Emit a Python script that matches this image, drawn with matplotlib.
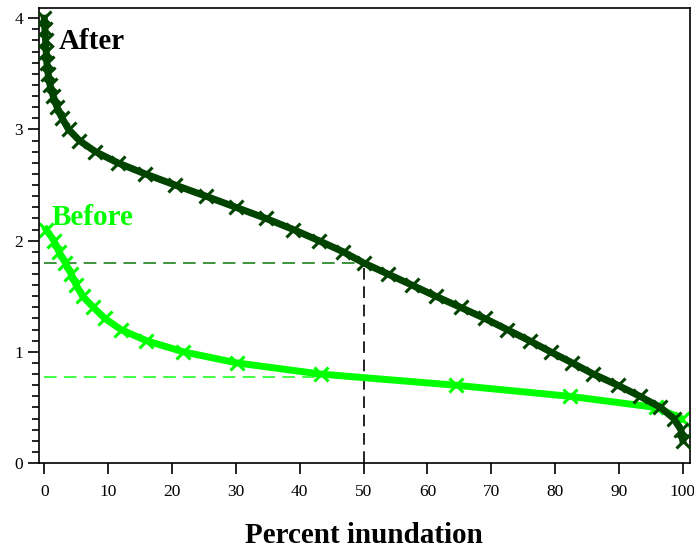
import matplotlib.pyplot as plt
from matplotlib.ticker import MultipleLocator

# inundation depth levels (y) and percent of area inundated (x)
after_depth = [4.0, 3.9, 3.8, 3.7, 3.6, 3.5, 3.4, 3.3, 3.2, 3.1, 3.0, 2.9, 2.8, 2.7,
               2.6, 2.5, 2.4, 2.3, 2.2, 2.1, 2.0, 1.9, 1.8, 1.7, 1.6, 1.5, 1.4, 1.3,
               1.2, 1.1, 1.0, 0.9, 0.8, 0.7, 0.6, 0.5, 0.4, 0.3, 0.2]
after_pct = [0.0, 0.1, 0.2, 0.3, 0.4, 0.6, 0.9, 1.4, 2.0, 2.8, 3.8, 5.5, 8.0, 11.5,
             15.8, 20.5, 25.3, 30.0, 34.7, 39.0, 43.0, 46.8, 50.0, 53.8, 57.6, 61.3,
             65.2, 69.0, 72.5, 76.0, 79.3, 82.7, 86.0, 89.8, 93.3, 96.5, 98.6, 99.7, 100.0]

before_depth = [2.1, 2.0, 1.9, 1.8, 1.7, 1.6, 1.5, 1.4, 1.3, 1.2, 1.1, 1.0, 0.9,
                0.8, 0.7, 0.6, 0.5, 0.4]
before_pct = [0.3, 1.5, 2.3, 3.3, 4.2, 5.0, 6.0, 7.7, 9.5, 12.0, 16.0, 21.8, 30.2,
              43.3, 64.4, 82.3, 95.8, 99.8]

median_pct = 50
after_median = 1.8
before_median = 0.77

dark = '#004400'
light = '#00ff00'

plt.rcParams['font.family'] = ['Liberation Serif', 'DejaVu Serif']

fig = plt.figure(figsize=(6.94, 5.48), dpi=100)
ax = fig.add_axes([0.0562, 0.155, 0.9378, 0.83])

ax.plot([0, median_pct], [after_median, after_median], '--', color='#2e8b2e',
        lw=1.3, dashes=(7, 4), zorder=1)
ax.plot([0, median_pct], [before_median, before_median], '--', color='#33ff33',
        lw=1.3, dashes=(7, 4), zorder=1)
ax.plot([median_pct, median_pct], [0, after_median], '--', color='black',
        lw=1.2, dashes=(7, 4), zorder=1)

ax.plot(before_pct, before_depth, '-x', color=light, lw=5, ms=10, mew=2.2, zorder=2)
ax.plot(after_pct, after_depth, '-x', color=dark, lw=5, ms=10, mew=2.2, zorder=3)

ax.text(2.3, 3.72, 'After', fontsize=21, fontweight='bold', color='black')
ax.text(1.2, 2.14, 'Before', fontsize=21, fontweight='bold', color=light)

ax.set_xlim(-0.83, 101.1)
ax.set_ylim(0, 4.09)
ax.xaxis.set_major_locator(MultipleLocator(10))
ax.yaxis.set_major_locator(MultipleLocator(1))
ax.yaxis.set_minor_locator(MultipleLocator(0.1))
ax.tick_params(axis='both', which='major', length=8, width=1.2, labelsize=12.5, direction='out')
ax.tick_params(axis='y', which='minor', length=5, width=1.2)
ax.tick_params(axis='x', pad=7)
for s in ax.spines.values():
    s.set_linewidth(1.2)

ax.set_xlabel('Percent inundation', fontsize=21, fontweight='bold', labelpad=16)

fig.savefig('out.png', dpi=100)
